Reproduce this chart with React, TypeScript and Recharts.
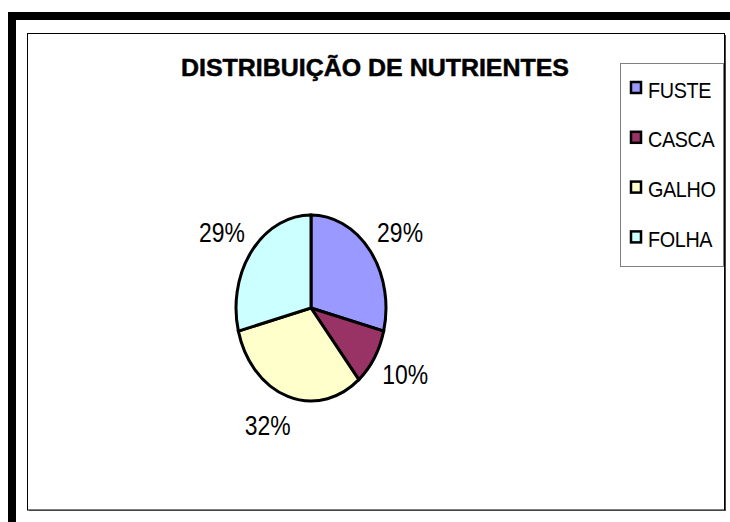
import { PieChart, Pie, Cell, Legend } from "recharts";

const parts = ["FUSTE", "CASCA", "GALHO", "FOLHA"];
const shares = [29, 10, 32, 29];
const colors = ["#9999ff", "#993366", "#ffffcc", "#ccffff"];

const data = parts.map((name, i) => ({ name, value: shares[i] }));

const W = 730;
const H = 522;
const CX = 311;
const CY = 308;
const RY = 93; // vertical radius, the pie is drawn squashed sideways
const SQUASH = 75 / 93;
const RAD = Math.PI / 180;
const FONT = "'Liberation Sans', Arial, sans-serif";

function PctLabel(props: any) {
  const { cx, cy, midAngle, percent } = props;
  const c = Math.cos(midAngle * RAD);
  const s = Math.sin(midAngle * RAD);
  // label box sits just outside the rim, pushed away sideways by half its width
  const x = cx + 95 * c + 14 * Math.sign(c);
  const y = cy - 123 * s;
  return (
    <text
      transform={`translate(${x} ${y + 9.7}) scale(0.85 1)`}
      textAnchor="middle"
      fontFamily={FONT}
      fontSize={27}
      fill="#000"
    >
      {Math.round(percent * 100)}%
    </text>
  );
}

function LegendBox() {
  return (
    <svg width={104} height={204} style={{ display: "block" }}>
      <rect x={0.5} y={0.5} width={103} height={203} fill="#fff" stroke="#808080" />
      {parts.map((p, i) => (
        <g key={p}>
          <rect
            x={11}
            y={19 + i * 49.8}
            width={10}
            height={11}
            fill={colors[i]}
            stroke="#000"
            strokeWidth={2.5}
          />
          <text
            transform={`translate(28 ${34.5 + i * 49.8}) scale(0.9 1)`}
            fontFamily={FONT}
            fontSize={22}
            letterSpacing={-0.4}
            fill="#000"
          >
            {p}
          </text>
        </g>
      ))}
    </svg>
  );
}

export default function App() {
  return (
    <div
      style={{
        position: "absolute",
        left: 0,
        top: 0,
        width: W,
        height: H,
        background: "#fff",
      }}
    >
      <style>{`.recharts-sector { transform: scaleX(${SQUASH}); transform-origin: ${CX}px ${CY}px; vector-effect: non-scaling-stroke; stroke-width: 3px; }`}</style>
      <PieChart width={W} height={H} margin={{ top: 0, right: 0, bottom: 0, left: 0 }}>
        {/* outer heavy frame */}
        <rect x={8} y={12} width={8} height={H - 12} fill="#000" />
        <rect x={8} y={12} width={W - 8} height={8} fill="#000" />
        {/* chart area frame with a little shadow */}
        <rect x={27.5} y={33.5} width={697} height={476.5} fill="none" stroke="#000" />
        <line x1={725.5} y1={35} x2={725.5} y2={511} stroke="#444" strokeWidth={1} />
        <line x1={29} y1={510.5} x2={726} y2={510.5} stroke="#444" strokeWidth={1} />
        <text
          x={375}
          y={76}
          textAnchor="middle"
          fontFamily={FONT}
          fontWeight="bold"
          fontSize={24}
          textLength={388}
          lengthAdjust="spacingAndGlyphs"
          stroke="#000"
          strokeWidth={0.5}
          fill="#000"
        >
          DISTRIBUIÇÃO DE NUTRIENTES
        </text>
        <Pie
          data={data}
          dataKey="value"
          nameKey="name"
          cx={CX}
          cy={CY}
          outerRadius={RY}
          startAngle={90}
          endAngle={-270}
          stroke="#000"
          strokeWidth={3}
          label={PctLabel}
          labelLine={false}
          isAnimationActive={false}
        >
          {data.map((d, i) => (
            <Cell key={d.name} fill={colors[i]} />
          ))}
        </Pie>
        <Legend
          content={() => <LegendBox />}
          wrapperStyle={{ left: 620, top: 63, width: 104, height: 204 }}
        />
      </PieChart>
    </div>
  );
}
